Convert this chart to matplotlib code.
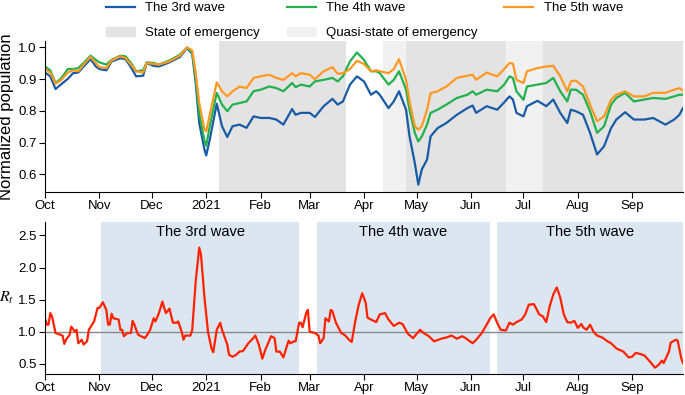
import numpy as np
import pandas as pd
import matplotlib
matplotlib.use('Agg')
import matplotlib.pyplot as plt
from matplotlib.patches import Patch
from matplotlib.lines import Line2D

plt.rcParams['font.family'] = ['Liberation Sans', 'DejaVu Sans']
plt.rcParams['mathtext.fontset'] = 'stix'

start = pd.Timestamp('2020-10-01')

# top panel: normalized population, days since 2020-10-01
pop_days = [0, 3, 6, 9, 13, 16, 19, 22, 26, 29, 31, 35, 38, 43, 46, 49, 52, 56, 58, 62,
            65, 71, 77, 81, 84, 86, 88, 91, 92, 94, 98, 101, 104, 107, 111, 115, 119, 123, 128, 132,
            136, 141, 143, 146, 151, 154, 159, 164, 167, 170, 174, 178, 182, 186, 189, 191, 196, 199, 202, 206,
            208, 211, 213, 215, 218, 220, 224, 229, 235, 241, 244, 246, 252, 258, 262, 265, 267, 269, 273, 275,
            281, 286, 290, 294, 298, 300, 303, 307, 311, 315, 319, 323, 326, 331, 336, 342, 347, 354, 359, 362, 364]
wave3 = [0.921, 0.909, 0.869, 0.883, 0.901, 0.919, 0.921, 0.940, 0.963, 0.940, 0.932, 0.928, 0.956, 0.966, 0.963, 0.938, 0.909, 0.911, 0.951, 0.942,
         0.940, 0.953, 0.970, 0.998, 0.980, 0.888, 0.762, 0.678, 0.660, 0.710, 0.823, 0.752, 0.718, 0.752, 0.757, 0.747, 0.783, 0.778, 0.778, 0.773,
         0.757, 0.806, 0.788, 0.794, 0.794, 0.781, 0.815, 0.838, 0.820, 0.830, 0.883, 0.909, 0.893, 0.851, 0.862, 0.851, 0.809, 0.830, 0.862, 0.804,
         0.720, 0.636, 0.568, 0.616, 0.647, 0.720, 0.746, 0.762, 0.788, 0.809, 0.817, 0.794, 0.815, 0.804, 0.827, 0.846, 0.836, 0.794, 0.783, 0.815,
         0.832, 0.815, 0.836, 0.794, 0.762, 0.804, 0.799, 0.788, 0.731, 0.663, 0.689, 0.746, 0.773, 0.796, 0.773, 0.773, 0.778, 0.757, 0.773, 0.788, 0.809]
wave4 = [0.940, 0.928, 0.888, 0.901, 0.932, 0.932, 0.935, 0.951, 0.974, 0.961, 0.953, 0.946, 0.961, 0.974, 0.972, 0.951, 0.925, 0.928, 0.953, 0.951,
         0.946, 0.959, 0.977, 1.000, 0.984, 0.904, 0.794, 0.705, 0.691, 0.752, 0.857, 0.820, 0.799, 0.820, 0.825, 0.830, 0.862, 0.867, 0.877, 0.872,
         0.862, 0.888, 0.875, 0.883, 0.877, 0.893, 0.898, 0.904, 0.893, 0.909, 0.956, 0.984, 0.961, 0.925, 0.925, 0.919, 0.883, 0.898, 0.925, 0.867,
         0.804, 0.731, 0.704, 0.720, 0.757, 0.794, 0.804, 0.820, 0.841, 0.851, 0.862, 0.851, 0.867, 0.862, 0.883, 0.909, 0.904, 0.862, 0.835, 0.877,
         0.883, 0.888, 0.904, 0.862, 0.830, 0.867, 0.867, 0.851, 0.799, 0.731, 0.752, 0.820, 0.841, 0.857, 0.830, 0.836, 0.841, 0.838, 0.846, 0.851, 0.851]
wave5 = [0.932, 0.921, 0.886, 0.896, 0.921, 0.928, 0.925, 0.946, 0.970, 0.951, 0.938, 0.935, 0.959, 0.972, 0.966, 0.946, 0.925, 0.921, 0.951, 0.948,
         0.946, 0.956, 0.974, 1.000, 0.991, 0.919, 0.825, 0.741, 0.736, 0.788, 0.890, 0.862, 0.846, 0.862, 0.877, 0.872, 0.904, 0.909, 0.914, 0.904,
         0.898, 0.919, 0.909, 0.919, 0.914, 0.900, 0.925, 0.938, 0.917, 0.919, 0.932, 0.958, 0.948, 0.925, 0.928, 0.925, 0.919, 0.932, 0.963, 0.898,
         0.830, 0.752, 0.741, 0.752, 0.804, 0.856, 0.862, 0.877, 0.904, 0.911, 0.914, 0.898, 0.921, 0.909, 0.932, 0.951, 0.949, 0.898, 0.888, 0.925,
         0.935, 0.940, 0.942, 0.909, 0.862, 0.893, 0.896, 0.877, 0.820, 0.768, 0.783, 0.836, 0.851, 0.862, 0.846, 0.846, 0.857, 0.857, 0.867, 0.872, 0.864]

# bottom panel: effective reproduction number
rt_days = [0, 1, 2, 3, 4, 6, 9, 10, 11, 12, 14, 15, 17, 18, 19, 21, 22, 24, 25, 28,
           30, 31, 33, 35, 36, 37, 38, 39, 42, 43, 44, 45, 47, 49, 50, 51, 53, 54, 57, 59,
           60, 62, 63, 65, 67, 68, 69, 71, 73, 75, 76, 78, 79, 80, 83, 84, 86, 88, 89, 91,
           93, 95, 96, 98, 100, 101, 104, 105, 107, 109, 111, 113, 116, 118, 120, 122, 124, 126, 127, 129,
           131, 132, 134, 136, 138, 139, 140, 142, 143, 145, 146, 147, 149, 150, 151, 154, 156, 157, 159, 160,
           162, 163, 164, 166, 169, 171, 174, 175, 177, 179, 181, 183, 184, 186, 189, 191, 194, 196, 199, 202,
           204, 207, 210, 214, 216, 219, 222, 226, 229, 232, 235, 238, 240, 244, 246, 249, 252, 254, 256, 258,
           260, 263, 265, 267, 269, 272, 274, 276, 279, 282, 284, 286, 288, 290, 292, 294, 296, 298, 300, 302,
           304, 306, 307, 309, 311, 313, 315, 318, 321, 323, 326, 330, 333, 335, 337, 340, 342, 345, 348, 350,
           352, 353, 356, 357, 360, 361, 363, 364]
rt = [1.21, 1.11, 1.11, 1.29, 1.24, 0.98, 0.95, 0.94, 0.81, 0.875, 0.95, 1.08, 1.00, 1.03, 0.82, 0.875, 0.80, 0.85, 1.03, 1.16,
      1.37, 1.37, 1.46, 1.34, 1.11, 1.11, 1.28, 1.21, 1.19, 1.03, 1.03, 0.93, 0.98, 0.98, 1.17, 1.11, 0.96, 0.94, 0.90, 0.98,
      1.03, 1.21, 1.16, 1.29, 1.47, 1.37, 1.29, 1.36, 1.14, 1.14, 1.16, 1.00, 0.875, 0.94, 0.94, 1.03, 1.79, 2.31, 2.20, 1.53,
      1.00, 0.74, 0.68, 1.03, 1.14, 1.03, 0.80, 0.64, 0.61, 0.64, 0.69, 0.70, 0.82, 0.875, 0.94, 0.80, 0.58, 0.74, 0.80, 0.93,
      0.90, 0.69, 0.69, 0.60, 0.77, 0.86, 0.82, 0.85, 0.85, 1.14, 1.14, 1.07, 1.29, 1.34, 1.00, 0.98, 0.94, 0.82, 0.90, 1.21,
      1.16, 1.34, 1.32, 1.14, 0.98, 0.95, 0.86, 0.84, 1.16, 1.42, 1.60, 1.45, 1.22, 1.19, 1.15, 1.27, 1.29, 1.19, 1.09, 1.14,
      1.12, 0.97, 0.90, 1.03, 0.98, 0.93, 0.85, 0.89, 0.91, 0.94, 0.89, 0.93, 0.90, 0.82, 0.875, 0.97, 1.11, 1.21, 1.27, 1.14,
      1.03, 1.02, 1.14, 1.11, 1.15, 1.19, 1.27, 1.42, 1.43, 1.27, 1.24, 1.15, 1.40, 1.58, 1.69, 1.53, 1.27, 1.15, 1.14, 1.17,
      1.06, 1.12, 1.07, 1.03, 1.11, 1.00, 0.94, 0.91, 0.85, 0.82, 0.74, 0.69, 0.60, 0.61, 0.67, 0.65, 0.63, 0.54, 0.44, 0.48,
      0.55, 0.51, 0.69, 0.83, 0.875, 0.86, 0.59, 0.51]

emergency = [('2021-01-08', '2021-03-22'), ('2021-04-25', '2021-06-21'), ('2021-07-12', '2021-09-30')]
quasi = [('2021-04-12', '2021-04-25'), ('2021-06-21', '2021-07-12')]
waves = [('2020-11-02', '2021-02-23'), ('2021-03-05', '2021-06-12'), ('2021-06-16', '2021-09-30')]
wave_names = ['The 3rd wave', 'The 4th wave', 'The 5th wave']

month_ticks = pd.date_range('2020-10-01', '2021-09-01', freq='MS')
month_labels = ['Oct', 'Nov', 'Dec', '2021', 'Feb', 'Mar', 'Apr', 'May', 'Jun', 'Jul', 'Aug', 'Sep']

c3, c4, c5 = '#1a5ba6', '#22b14c', '#ff9922'
c_soe, c_quasi, c_wave = '#e3e3e3', '#f1f1f1', '#dce6f1'

x_pop = start + pd.to_timedelta(pop_days, unit='D')
x_rt = start + pd.to_timedelta(rt_days, unit='D')
xmin, xmax = pd.Timestamp('2020-10-01'), pd.Timestamp('2021-09-30')

fig = plt.figure(figsize=(6.85, 3.95), dpi=100)
ax1 = fig.add_axes([0.0657, 0.514, 0.9313, 0.382])
ax2 = fig.add_axes([0.0657, 0.053, 0.9313, 0.385])

for s, e in emergency:
    ax1.axvspan(pd.Timestamp(s), pd.Timestamp(e), color=c_soe, lw=0, zorder=0)
for s, e in quasi:
    ax1.axvspan(pd.Timestamp(s), pd.Timestamp(e), color=c_quasi, lw=0, zorder=0)
ax1.plot(x_pop, wave3, color=c3, lw=1.6)
ax1.plot(x_pop, wave4, color=c4, lw=1.6)
ax1.plot(x_pop, wave5, color=c5, lw=1.6)
ax1.set_ylim(0.545, 1.02)
ax1.set_yticks([0.6, 0.7, 0.8, 0.9, 1.0])
ax1.set_ylabel('Normalized population', fontsize=12, labelpad=3)

for (s, e), name in zip(waves, wave_names):
    s, e = pd.Timestamp(s), pd.Timestamp(e)
    ax2.axvspan(s, e, color=c_wave, lw=0, zorder=0)
    ax2.text(s + (e - s) / 2, 2.56, name, ha='center', va='center', fontsize=10.5)
ax2.axhline(1.0, color='#888888', lw=1, zorder=1)
ax2.plot(x_rt, rt, color='#ff2200', lw=1.6, zorder=2)
ax2.set_ylim(0.34, 2.71)
ax2.set_yticks([0.5, 1.0, 1.5, 2.0, 2.5])
ax2.set_ylabel(r'$R_t$', fontsize=11.5, rotation=0, va='center', ha='center')
ax2.yaxis.set_label_coords(-0.06, 0.5)

for ax in (ax1, ax2):
    ax.set_xlim(xmin, xmax)
    ax.set_xticks(month_ticks)
    ax.set_xticklabels(month_labels)
    ax.spines['top'].set_visible(False)
    ax.spines['right'].set_visible(False)
    ax.tick_params(labelsize=9.5, length=4, width=0.8, pad=2)
    ax.set_facecolor('white')

handles = [Line2D([], [], color=c3, lw=1.6), Patch(color=c_soe),
           Line2D([], [], color=c4, lw=1.6), Patch(color=c_quasi),
           Line2D([], [], color=c5, lw=1.6)]
labels = ['The 3rd wave', 'State of emergency', 'The 4th wave', 'Quasi-state of emergency', 'The 5th wave']
fig.legend(handles, labels, loc='upper center', bbox_to_anchor=(0.532, 1.025), ncol=3, frameon=False,
           fontsize=9.5, handlelength=2.2, columnspacing=2.0, labelspacing=0.95, handletextpad=0.8)

fig.savefig('out.png', dpi=100)
